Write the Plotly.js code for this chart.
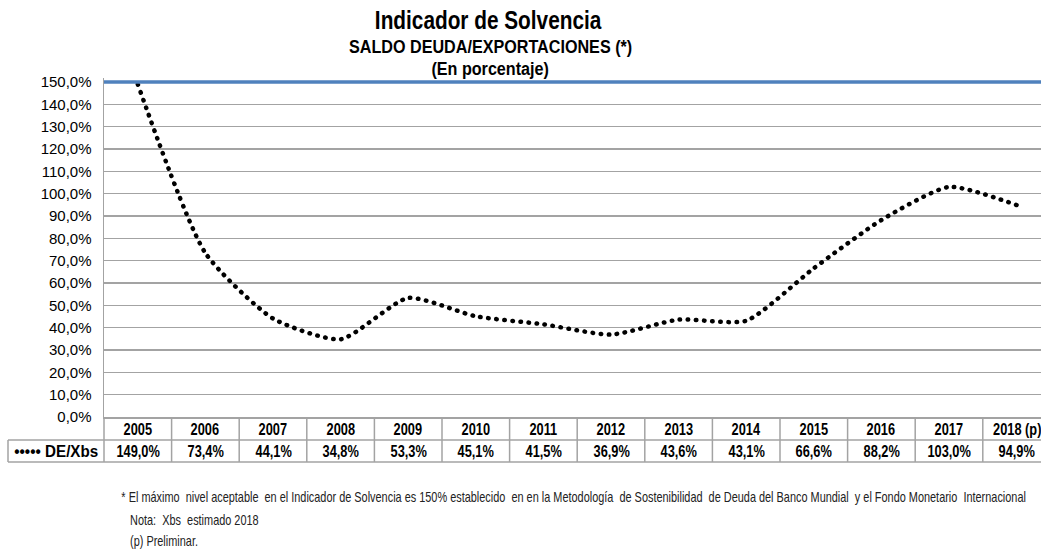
<!DOCTYPE html>
<html>
<head>
<meta charset="utf-8">
<script src="https://cdn.plot.ly/plotly-3.0.1.min.js"></script>
<style>
  html, body { margin: 0; padding: 0; background: #fff; overflow: hidden; }
  #chart { width: 1041px; height: 549px; }
  path.js-line { stroke-linecap: round !important; }
</style>
</head>
<body>
<div id="chart"></div>
<script>
// ---- data ----
const years = ['2005','2006','2007','2008','2009','2010','2011','2012','2013','2014','2015','2016','2017','2018 (p)'];
const deXbs = [149.0, 73.4, 44.1, 34.8, 53.3, 45.1, 41.5, 36.9, 43.6, 43.1, 66.6, 88.2, 103.0, 94.9];
const seriesName = 'DE/Xbs';
const limitValue = 150;
const yTicks = [0,10,20,30,40,50,60,70,80,90,100,110,120,130,140,150];
const titleMain = 'Indicador de Solvencia';
const titleSub = 'SALDO DEUDA/EXPORTACIONES (*)';
const titleUnit = '(En porcentaje)';
const notes = [
  '* El máximo  nivel aceptable  en el Indicador de Solvencia es 150% establecido  en en la Metodología  de Sostenibilidad  de Deuda del Banco Mundial  y el Fondo Monetario  Internacional',
  'Nota:  Xbs  estimado 2018',
  '(p) Preliminar.'
];

// ---- layout helpers ----
const W = 1041, H = 549;
const mL = 104, mR = 0, mT = 78, mB = 132;
const plotW = W - mL - mR, plotH = H - mT - mB;
const py = p => (H - mB - p) / plotH;      // pixel y -> paper y
const px = p => (p - mL) / plotW;          // pixel x -> paper x
const sans = '"Liberation Sans", Arial, sans-serif';
const grid = '#a3a3a3';
const fmt = v => v.toFixed(1).replace('.', ',') + '%';

const trace = {
  x: years, y: deXbs, type: 'scatter', mode: 'lines', name: seriesName,
  line: { color: '#000', width: 4.5, dash: '0.5px,7.6px', shape: 'spline', smoothing: 0.6 },
  cliponaxis: false, hoverinfo: 'x+y'
};

const shapes = [];
// limit line at 150%
shapes.push({ type: 'line', xref: 'paper', x0: 0, x1: 1, yref: 'y', y0: limitValue, y1: limitValue,
  line: { color: '#4f81bd', width: 3.5 } });
// table horizontal lines
[440, 462].forEach(p => shapes.push({ type: 'line', xref: 'paper', x0: px(8), x1: 1, yref: 'paper', y0: py(p), y1: py(p),
  line: { color: grid, width: 1.5 } }));
// table vertical lines
shapes.push({ type: 'line', xref: 'paper', x0: px(8), x1: px(8), yref: 'paper', y0: py(440), y1: py(462), line: { color: grid, width: 1.5 } });
shapes.push({ type: 'line', xref: 'paper', x0: 0, x1: 0, yref: 'paper', y0: 0, y1: py(462), line: { color: grid, width: 1.5 } });
for (let i = 1; i <= years.length; i++) {
  shapes.push({ type: 'line', xref: 'x', x0: i - 0.5, x1: i - 0.5, yref: 'paper', y0: 0, y1: py(462),
    line: { color: grid, width: 1.5 } });
}

// scaleX applied after render to emulate a narrow typeface: [annotation, scale]
const squeeze = [];
const annotations = [];
function ann(a, scale) { annotations.push(a); squeeze.push(scale); }

years.forEach((yr, i) => {
  ann({ xref: 'x', x: i, yref: 'paper', y: py(429), text: '<b>' + yr + '</b>', showarrow: false,
    xanchor: 'center', yanchor: 'middle', font: { family: sans, size: 16, color: '#000' } }, 0.8);
  ann({ xref: 'x', x: i, yref: 'paper', y: py(451), text: '<b>' + fmt(deXbs[i]) + '</b>', showarrow: false,
    xanchor: 'center', yanchor: 'middle', font: { family: sans, size: 16, color: '#000' } }, 0.8);
});
ann({ xref: 'paper', x: px(56), yref: 'paper', y: py(451), text: '<b>••••• ' + seriesName + '</b>', showarrow: false,
  xanchor: 'center', yanchor: 'middle', font: { family: sans, size: 16, color: '#000' } }, 0.95);
ann({ xref: 'paper', x: px(490), yref: 'paper', y: py(46), text: '<b>' + titleSub + '</b>', showarrow: false,
  xanchor: 'center', yanchor: 'middle', font: { family: sans, size: 19, color: '#000' } }, 0.85);
ann({ xref: 'paper', x: px(490), yref: 'paper', y: py(68), text: '<b>' + titleUnit + '</b>', showarrow: false,
  xanchor: 'center', yanchor: 'middle', font: { family: sans, size: 19, color: '#000' } }, 0.85);
[497, 520, 541].forEach((p, k) => {
  ann({ xref: 'paper', x: px(k === 0 ? 119 : 128), yref: 'paper', y: py(p), text: notes[k], showarrow: false,
    xanchor: 'left', yanchor: 'middle', font: { family: sans, size: 14, color: '#222' } }, 0.78);
});

const layout = {
  width: W, height: H,
  margin: { l: mL, r: mR, t: mT, b: mB, pad: 0 },
  paper_bgcolor: '#fff', plot_bgcolor: '#fff',
  showlegend: false,
  title: { text: '<b>' + titleMain + '</b>', x: 488 / W, xanchor: 'center', y: 1 - 20 / H, yanchor: 'middle',
    font: { family: sans, size: 26, color: '#000' } },
  xaxis: { type: 'category', categoryorder: 'array', categoryarray: years, range: [-0.5, plotW / 67.6 - 0.5],
    showticklabels: false, showgrid: false, zeroline: false, showline: true, linecolor: grid, linewidth: 1.5, fixedrange: true },
  yaxis: { range: [0, limitValue + (82 - mT) / ((H - mB - 82) / limitValue)], tickmode: 'array', tickvals: yTicks,
    ticktext: yTicks.map(fmt),
    showgrid: true, gridcolor: grid, gridwidth: 1.5, zeroline: false, showline: true, linecolor: grid, linewidth: 1.5,
    ticks: '', ticklabelstandoff: 8, tickfont: { family: sans, size: 15, color: '#000' }, fixedrange: true },
  shapes: shapes,
  annotations: annotations
};

Plotly.newPlot('chart', [trace], layout, { displayModeBar: false, staticPlot: true }).then(gd => {
  gd.querySelectorAll('g.annotation').forEach(g => {
    const idx = +g.getAttribute('data-index');
    const s = squeeze[idx];
    const a = annotations[idx];
    const t = g.querySelector('text.annotation-text');
    if (!t || !s || s === 1) return;
    t.style.transformBox = 'fill-box';
    t.style.transformOrigin = a.xanchor === 'left' ? 'left center' : 'center center';
    t.style.transform = 'scaleX(' + s + ')';
  });
  const tt = gd.querySelector('text.gtitle');
  if (tt) {
    tt.style.transformBox = 'fill-box';
    tt.style.transformOrigin = 'center center';
    tt.style.transform = 'scaleX(0.8)';
  }
});
</script>
</body>
</html>
